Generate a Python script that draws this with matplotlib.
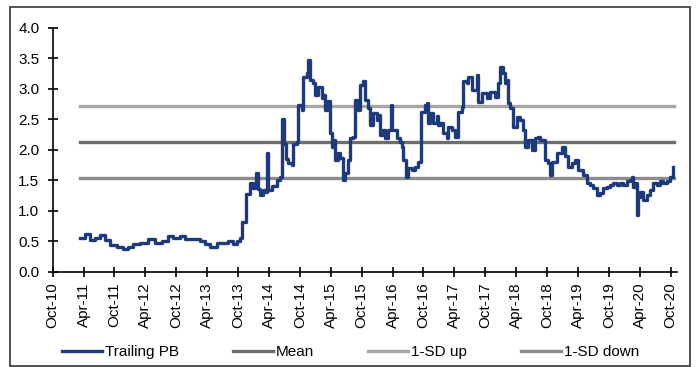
import numpy as np
import matplotlib.pyplot as plt
from matplotlib.patches import Rectangle

plt.rcParams['font.family'] = ['Liberation Sans', 'DejaVu Sans']

# trailing P/B, dates as decimal years (one row of dates per row of values)
pb_dates = [
    2011.19, 2011.27, 2011.35, 2011.43, 2011.52, 2011.60, 2011.68, 2011.79, 2011.89, 2011.97,
    2012.05, 2012.16, 2012.29, 2012.41, 2012.52, 2012.62, 2012.70, 2012.81, 2012.89, 2013.02,
    2013.13, 2013.21, 2013.30, 2013.41, 2013.51, 2013.59, 2013.67, 2013.73, 2013.78, 2013.81,
    2013.86, 2013.88, 2013.94, 2013.99, 2014.04, 2014.07, 2014.10, 2014.15, 2014.20, 2014.22,
    2014.23, 2014.30, 2014.38, 2014.43, 2014.46, 2014.49, 2014.53, 2014.56, 2014.62, 2014.64,
    2014.70, 2014.72, 2014.78, 2014.80, 2014.87, 2014.88, 2014.91, 2014.96, 2014.99, 2015.04,
    2015.11, 2015.12, 2015.16, 2015.21, 2015.24, 2015.27, 2015.29, 2015.32, 2015.37, 2015.40,
    2015.45, 2015.48, 2015.53, 2015.56, 2015.61, 2015.64, 2015.69, 2015.72, 2015.77, 2015.80,
    2015.85, 2015.88, 2015.93, 2016.00, 2016.01, 2016.05, 2016.10, 2016.13, 2016.18, 2016.22,
    2016.24, 2016.32, 2016.37, 2016.40, 2016.42, 2016.47, 2016.50, 2016.56, 2016.61, 2016.66,
    2016.71, 2016.77, 2016.81, 2016.82, 2016.86, 2016.90, 2016.97, 2016.99, 2017.02, 2017.07,
    2017.13, 2017.15, 2017.21, 2017.26, 2017.31, 2017.37, 2017.39, 2017.45, 2017.47, 2017.53,
    2017.62, 2017.63, 2017.70, 2017.78, 2017.83, 2017.91, 2017.96, 2017.99, 2018.04, 2018.07,
    2018.10, 2018.12, 2018.15, 2018.20, 2018.26, 2018.31, 2018.36, 2018.39, 2018.44, 2018.51,
    2018.55, 2018.60, 2018.64, 2018.68, 2018.72, 2018.76, 2018.80, 2018.83, 2018.91, 2018.99,
    2019.04, 2019.09, 2019.15, 2019.20, 2019.25, 2019.33, 2019.40, 2019.44, 2019.49, 2019.56,
    2019.61, 2019.65, 2019.72, 2019.77, 2019.82, 2019.88, 2019.93, 2019.98, 2020.04, 2020.09,
    2020.12, 2020.14, 2020.17, 2020.20, 2020.22, 2020.25, 2020.30, 2020.37, 2020.42, 2020.46,
    2020.53, 2020.58, 2020.63, 2020.69, 2020.74, 2020.79,
]
pb_values = [
    0.56, 0.62, 0.52, 0.55, 0.60, 0.52, 0.44, 0.40, 0.38, 0.40,
    0.45, 0.47, 0.54, 0.47, 0.50, 0.58, 0.55, 0.58, 0.53, 0.53,
    0.50, 0.45, 0.40, 0.47, 0.47, 0.50, 0.46, 0.50, 0.55, 0.82,
    0.82, 1.28, 1.45, 1.37, 1.62, 1.35, 1.26, 1.34, 1.30, 1.95,
    1.34, 1.40, 1.50, 1.56, 2.50, 2.10, 1.85, 1.78, 1.75, 2.10,
    2.13, 2.73, 2.65, 3.20, 3.25, 3.47, 3.14, 3.10, 2.90, 3.03,
    2.85, 2.90, 2.65, 2.80, 2.27, 2.05, 2.16, 1.83, 1.94, 1.86,
    1.50, 1.62, 1.83, 2.19, 2.21, 2.81, 2.65, 3.06, 3.12, 2.81,
    2.68, 2.40, 2.60, 2.49, 2.57, 2.24, 2.32, 2.19, 2.32, 2.73,
    2.32, 2.19, 2.13, 2.05, 1.83, 1.56, 1.70, 1.67, 1.72, 1.80,
    2.62, 2.73, 2.76, 2.43, 2.60, 2.43, 2.55, 2.40, 2.43, 2.27,
    2.19, 2.38, 2.32, 2.21, 2.62, 2.70, 3.12, 3.09, 3.20, 2.98,
    3.22, 2.79, 2.93, 2.85, 2.95, 2.87, 3.09, 3.36, 3.25, 3.09,
    3.14, 2.76, 2.68, 2.38, 2.54, 2.49, 2.32, 2.05, 2.16, 2.00,
    2.19, 2.21, 2.16, 2.16, 1.83, 1.78, 1.58, 1.80, 1.94, 2.05,
    1.90, 1.72, 1.78, 1.83, 1.67, 1.58, 1.45, 1.42, 1.37, 1.26,
    1.29, 1.37, 1.39, 1.42, 1.45, 1.42, 1.45, 1.42, 1.48, 1.50,
    1.56, 1.39, 1.45, 0.93, 1.23, 1.31, 1.18, 1.26, 1.34, 1.45,
    1.42, 1.48, 1.45, 1.48, 1.56, 1.72,
]

pb_mean = 2.13
sd_up = 2.72
sd_down = 1.54

tick_labels = ["Oct-10", "Apr-11", "Oct-11", "Apr-12", "Oct-12", "Apr-13", "Oct-13",
               "Apr-14", "Oct-14", "Apr-15", "Oct-15", "Apr-16", "Oct-16", "Apr-17",
               "Oct-17", "Apr-18", "Oct-18", "Apr-19", "Oct-19", "Apr-20", "Oct-20"]

navy = "#1F3A78"
grey_mean = "#6E6E6E"
grey_up = "#A6A6A6"
grey_down = "#8C8C8C"

fig = plt.figure(figsize=(6.96, 3.67), dpi=100)
ax = fig.add_axes([0.0757, 0.2597, 0.9723 - 0.0757, 0.9245 - 0.2597])

span = [pb_dates[0], pb_dates[-1] + 0.02]
ax.plot(pb_dates, pb_values, color=navy, lw=2.4, drawstyle='steps-post',
        label="Trailing PB", zorder=3)
ax.plot(span, [pb_mean] * 2, color=grey_mean, lw=2.4, label="Mean", zorder=2)
ax.plot(span, [sd_up] * 2, color=grey_up, lw=2.4, label="1-SD up", zorder=2)
ax.plot(span, [sd_down] * 2, color=grey_down, lw=2.4, label="1-SD down", zorder=2)

ax.set_xlim(2010.75, 2020.85)
ax.set_ylim(0, 4.0)
yt = np.arange(0, 4.01, 0.5)
ax.set_yticks(yt)
ax.set_yticklabels(["%.1f" % v for v in yt])
ax.set_xticks(np.arange(2010.75, 2020.76, 0.5))
ax.set_xticklabels(tick_labels, rotation=90)

for s in ("top", "right"):
    ax.spines[s].set_visible(False)
for s in ("left", "bottom"):
    ax.spines[s].set_linewidth(1.2)
    ax.spines[s].set_color("black")
ax.tick_params(axis='both', direction='inout', length=7, width=1.2,
               labelsize=11, colors='black')
ax.tick_params(axis='y', pad=6)
ax.tick_params(axis='x', pad=4)

ax.legend(loc='center left', bbox_to_anchor=(0.015, -0.329), ncol=4,
          frameon=False, fontsize=11, handlelength=2.6, borderpad=0,
          handletextpad=0.2, columnspacing=3.55, borderaxespad=0)

# outer frame
fig.patches.append(Rectangle((10 / 696, 1 / 367), 680 / 696, 359 / 367,
                             transform=fig.transFigure, fill=False,
                             edgecolor="#333333", lw=1.2))

fig.savefig("out.png", dpi=100)
